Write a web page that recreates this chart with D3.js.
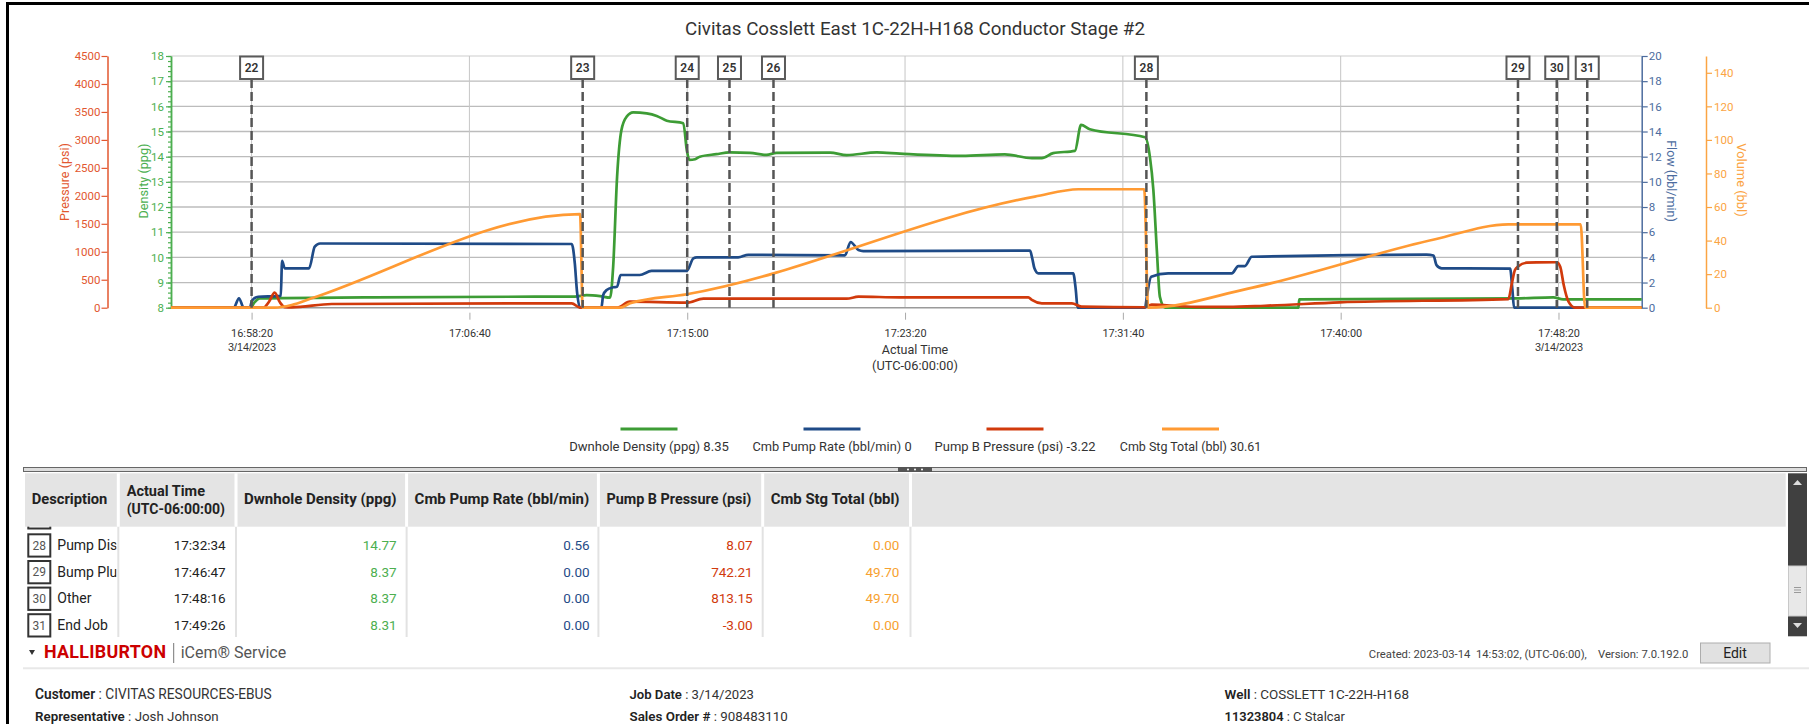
<!DOCTYPE html>
<html><head><meta charset="utf-8">
<script src="https://cdn.jsdelivr.net/npm/d3@7"></script>
<style>
body{margin:0;background:#fff;overflow:hidden}
svg{display:block;font-family:Roboto,"Open Sans",sans-serif}
</style></head><body>
<svg id="c" width="1809" height="724"></svg>
<script>
// ---------------- DATA ----------------
const chartTitle = "Civitas Cosslett East 1C-22H-H168 Conductor Stage #2";
const timeDomain = ["16:55:15", "17:51:31"];
const xTickLabels = ["16:58:20","17:06:40","17:15:00","17:23:20","17:31:40","17:40:00","17:48:20"];
const dateTickLabels = ["3/14/2023","","","","","","3/14/2023"];
const pressureTicks = [0,500,1000,1500,2000,2500,3000,3500,4000,4500];
const densityTicks = [8,9,10,11,12,13,14,15,16,17,18];
const flowTicks = [0,2,4,6,8,10,12,14,16,18,20];
const volumeTicks = [0,20,40,60,80,100,120,140];

const densityData = [
 ["16:55:15",8.0],["16:58:18",8.0],["16:58:26",8.2],["16:58:39",8.37],["17:02:40",8.41],["17:09:10",8.44],
 ["17:10:42",8.44],["17:11:09",8.5],["17:11:40",8.46],["17:12:03",8.4],["17:12:10",9.63],["17:12:19",13.2],
 ["17:12:29",15.06],["17:12:41",15.59],["17:12:56",15.76],["17:13:27",15.72],["17:13:50",15.62],["17:14:13",15.43],
 ["17:14:51",15.33],["17:14:59",14.27],["17:15:05",13.87],["17:15:18",13.9],["17:15:29",14.0],["17:16:07",14.1],
 ["17:16:38",14.17],["17:17:24",14.15],["17:18:02",14.07],["17:18:25",14.15],["17:20:28",14.16],["17:21:06",14.06],
 ["17:22:15",14.17],["17:23:08",14.12],["17:25:30",14.03],["17:27:09",14.09],["17:28:11",13.94],["17:28:34",13.94],
 ["17:29:00",14.14],["17:29:50",14.23],["17:30:04",15.26],["17:30:24",15.09],["17:32:31",14.77],["17:32:42",14.0],
 ["17:32:50",12.68],["17:32:58",10.29],["17:33:05",8.43],["17:33:17",8.0],["17:38:23",8.0],["17:38:25",8.33],
 ["17:46:44",8.37],["17:48:08",8.41],["17:48:31",8.33],["17:51:31",8.33]
];
const flowData = [
 ["16:55:15",0],["16:57:39",0],["16:57:51",0.75],["16:58:02",0],["16:58:16",0],["16:58:21",0.56],["16:58:35",0.87],
 ["16:59:21",0.92],["16:59:27",0.95],["16:59:30",3.73],["16:59:36",3.13],["17:00:32",3.13],["17:00:45",4.85],
 ["17:00:57",5.1],["17:10:35",5.06],["17:10:42",3.5],["17:10:47",1.27],["17:10:54",0],["17:11:43",0],["17:11:47",1.0],
 ["17:11:55",1.4],["17:12:10",1.62],["17:12:19",1.67],["17:12:27",2.6],["17:13:11",2.6],["17:13:38",2.92],
 ["17:14:59",2.92],["17:15:14",3.92],["17:15:22",4.0],["17:16:57",4.0],["17:17:20",4.2],["17:21:02",4.16],
 ["17:21:15",5.22],["17:21:33",4.58],["17:21:44",4.5],["17:28:07",4.53],["17:28:12",3.92],["17:28:17",3.13],
 ["17:28:26",2.73],["17:29:46",2.73],["17:29:52",1.4],["17:29:56",0],["17:32:31",0],["17:32:35",0.87],
 ["17:32:45",2.46],["17:33:24",2.73],["17:35:50",2.73],["17:36:05",3.31],["17:36:20",3.31],["17:36:36",4.05],
 ["17:43:17",4.21],["17:43:33",4.15],["17:43:40",3.39],["17:43:52",3.13],["17:46:29",3.1],["17:46:34",1.5],
 ["17:46:38",0],["17:51:31",0]
];
const pressureData = [
 ["16:55:15",0],["16:58:47",0],["16:59:00",107],["16:59:13",268],["16:59:25",96],["16:59:36",10],["16:59:52",5],
 ["17:01:24",66],["17:09:10",78],["17:10:35",78],["17:10:54",0],["17:12:20",0],["17:12:48",107],["17:14:59",90],
 ["17:15:37",161],["17:21:06",161],["17:21:33",197],["17:23:08",185],["17:28:03",186],["17:28:11",138],
 ["17:28:34",78],["17:29:43",78],["17:30:05",20],["17:32:31",8],["17:32:46",55],["17:34:26",15],["17:35:42",15],
 ["17:37:06",35],["17:39:58",96],["17:46:25",155],["17:46:33",436],["17:46:40",674],["17:46:48",742],
 ["17:47:07",805],["17:47:30",812],["17:48:16",813],["17:48:24",733],["17:48:32",406],["17:48:43",107],
 ["17:48:58",0],["17:51:31",0]
];
const volumeData = [
 ["16:55:15",0],["16:59:13",0],["16:59:52",1.6],["17:00:38",5.6],["17:10:54",55.8],["17:11:00",0],["17:12:26",0],
 ["17:12:49",2.6],["17:14:59",8.0],["17:28:18",66.2],["17:29:58",70.6],["17:32:29",70.6],["17:32:38",0],
 ["17:36:25",11.2],["17:43:37",40.8],["17:46:25",49.7],["17:49:11",49.7],["17:49:21",0],["17:51:31",0]
];

const eventIds = [22,23,24,25,26,28,29,30,31];
const eventTimes = ["16:58:20","17:11:00","17:15:00","17:16:37","17:18:18","17:32:34","17:46:47","17:48:16","17:49:26"];

const legendNames = ["Dwnhole Density (ppg)","Cmb Pump Rate (bbl/min)","Pump B Pressure (psi)","Cmb Stg Total (bbl)"];
const legendValues = ["8.35","0","-3.22","30.61"];

const tableHeaders = ["Description","Actual Time|(UTC-06:00:00)","Dwnhole Density (ppg)","Cmb Pump Rate (bbl/min)","Pump B Pressure (psi)","Cmb Stg Total (bbl)"];
const rowIds = [28,29,30,31];
const rowDesc = ["Pump Dis","Bump Plu","Other","End Job"];
const rowTime = ["17:32:34","17:46:47","17:48:16","17:49:26"];
const rowDensity = ["14.77","8.37","8.37","8.31"];
const rowRate = ["0.56","0.00","0.00","0.00"];
const rowPressure = ["8.07","742.21","813.15","-3.00"];
const rowTotal = ["0.00","49.70","49.70","0.00"];

const infoLeft = [["Customer","CIVITAS RESOURCES-EBUS"],["Representative","Josh Johnson"]];
const infoMid = [["Job Date","3/14/2023"],["Sales Order #","908483110"]];
const infoRight = [["Well","COSSLETT 1C-22H-H168"],["11323804","C Stalcar"]];

// ---------------- STYLE ----------------
const C = {
  dens:"#3d9c35", flow:"#1f4b87", pres:"#d13a0c", vol:"#ff9a33",
  densAx:"#4caf50", flowAx:"#4c6c9e", presAx:"#e2572f", volAx:"#fba443"
};
const svg = d3.select("#c");
const parse = d3.timeParse("%H:%M:%S");
const X0=171, X1=1641.7, YT=56, YB=307.7;
const x = d3.scaleTime().domain(timeDomain.map(parse)).range([X0,X1]);
const yD = d3.scaleLinear([8,18],[YB,YT]);
const yF = d3.scaleLinear([0,20],[YB,YT]);
const yP = d3.scaleLinear([0,4500],[YB,YT]);
const yV = d3.scaleLinear([0,150],[YB,YT]);

function fit(sel, w){
  sel.each(function(){
    const fs = parseFloat(this.getAttribute("font-size"));
    const L = this.getComputedTextLength();
    if (L>0) this.setAttribute("font-size",(fs*w/L).toFixed(2));
  });
  return sel;
}

// page borders
svg.append("rect").attr("x",6).attr("y",2).attr("width",1803).attr("height",3).attr("fill","#000");
svg.append("rect").attr("x",6).attr("y",2).attr("width",3).attr("height",722).attr("fill","#000");

// title
fit(svg.append("text").attr("x",915).attr("y",35).attr("text-anchor","middle").attr("font-size",18)
  .attr("fill","#333").text(chartTitle), 460);

// grid
const grid = svg.append("g");
grid.selectAll("line.h").data(densityTicks.filter(d=>d>8 && d<18)).join("line")
  .attr("x1",X0).attr("x2",X1).attr("y1",d=>yD(d)).attr("y2",d=>yD(d))
  .attr("stroke","#bcbcbc").attr("stroke-width",1.3);
grid.append("line").attr("x1",X0).attr("x2",X1).attr("y1",YT).attr("y2",YT)
  .attr("stroke","#e6e6e6").attr("stroke-width",2);
grid.selectAll("line.v").data(xTickLabels).join("line")
  .attr("x1",d=>x(parse(d))).attr("x2",d=>x(parse(d))).attr("y1",YT).attr("y2",YB)
  .attr("stroke","#c6c6c6").attr("stroke-width",1);
grid.append("line").attr("x1",X0).attr("x2",X1).attr("y1",YB).attr("y2",YB)
  .attr("stroke","#9a9a9a").attr("stroke-width",1.5);

// x axis
const xa = svg.append("g").attr("transform",`translate(0,${YB+5})`)
  .call(d3.axisBottom(x).tickValues(xTickLabels.map(parse)).tickSize(7).tickSizeOuter(0).tickPadding(10)
    .tickFormat(d3.timeFormat("%H:%M:%S")));
xa.select(".domain").remove();
xa.selectAll(".tick line").attr("stroke","#aaa");
xa.selectAll(".tick text").attr("font-size",11.5).attr("fill","#333").attr("font-family","Roboto");
fit(xa.selectAll(".tick text"), 42);
xa.selectAll(".tick").each(function(d,i){
  if (dateTickLabels[i]) fit(d3.select(this).append("text").attr("y",38).attr("text-anchor","middle")
    .attr("font-size",11.5).attr("fill","#333").text(dateTickLabels[i]), 48);
});
fit(svg.append("text").attr("x",915).attr("y",354).attr("text-anchor","middle").attr("font-size",12.5)
  .attr("fill","#333").text("Actual Time"), 66.5);
fit(svg.append("text").attr("x",915).attr("y",370).attr("text-anchor","middle").attr("font-size",12.5)
  .attr("fill","#333").text("(UTC-06:00:00)"), 86);

function styleAxis(g, col){
  g.select(".domain").attr("stroke",col).attr("stroke-width",1.5);
  g.selectAll(".tick line").attr("stroke",col).attr("stroke-width",1.2);
  g.selectAll(".tick text").attr("fill",col).attr("font-size",11.5).attr("font-family","Roboto");
}
// pressure axis
const pa = svg.append("g").attr("transform","translate(107.5,0)")
  .call(d3.axisLeft(yP).tickValues(pressureTicks).tickSize(6).tickSizeOuter(0).tickPadding(1)
    .tickFormat(d3.format("d")));
styleAxis(pa, C.presAx);
// density axis (minor + major)
const dm = svg.append("g").attr("transform",`translate(${X0},0)`)
  .call(d3.axisLeft(yD).tickValues(d3.range(8,18.001,0.2)).tickSize(3).tickSizeOuter(0).tickFormat(""));
styleAxis(dm, C.densAx);
const da = svg.append("g").attr("transform",`translate(${X0},0)`)
  .call(d3.axisLeft(yD).tickValues(densityTicks).tickSize(5).tickSizeOuter(0).tickPadding(2));
styleAxis(da, C.densAx);
// flow axis
const fa = svg.append("g").attr("transform",`translate(${X1},0)`)
  .call(d3.axisRight(yF).tickValues(flowTicks).tickSize(6).tickSizeOuter(0).tickPadding(1));
styleAxis(fa, C.flowAx);
// volume axis
const va = svg.append("g").attr("transform","translate(1706,0)")
  .call(d3.axisRight(yV).tickValues(volumeTicks).tickSize(6).tickSizeOuter(0).tickPadding(2));
styleAxis(va, C.volAx);

function axTitle(tx, ty, rot, txt, col, w){
  fit(svg.append("text").attr("transform",`translate(${tx},${ty}) rotate(${rot})`)
    .attr("text-anchor","middle").attr("dominant-baseline","central").attr("font-size",13)
    .attr("fill",col).text(txt), w);
}
axTitle(64,182,-90,"Pressure (psi)",C.presAx,78);
axTitle(143,181,-90,"Density (ppg)",C.densAx,75);
axTitle(1671,181,90,"Flow (bbl/min)",C.flowAx,81.7);
axTitle(1741.5,180,90,"Volume (bbl)",C.volAx,73.3);

// series
function series(data, y, col){
  const line = d3.line().x(d=>x(parse(d[0]))).y(d=>y(d[1])).curve(d3.curveMonotoneX);
  svg.append("path").datum(data).attr("d",line).attr("fill","none").attr("stroke",col)
    .attr("stroke-width",2.7).attr("stroke-linejoin","round");
}
series(densityData, yD, C.dens);
series(flowData, yF, C.flow);
series(pressureData, yP, C.pres);
series(volumeData, yV, C.vol);

// events
const ev = svg.append("g").selectAll("g").data(eventIds).join("g")
  .attr("transform",(d,i)=>`translate(${x(parse(eventTimes[i]))},0)`);
ev.append("line").attr("y1",79).attr("y2",YB).attr("stroke","#555").attr("stroke-width",2.5)
  .attr("stroke-dasharray","9,4");
ev.append("rect").attr("x",-11.5).attr("y",56.5).attr("width",23).attr("height",22.5)
  .attr("fill","#fff").attr("stroke","#5a5a5a").attr("stroke-width",2);
ev.append("text").attr("y",72).attr("text-anchor","middle").attr("font-size",12).attr("font-weight",600)
  .attr("fill","#333").text(d=>d);

// legend
const legX = [649,832,1015,1190.5];
const legW = [159.7,159.3,161,141.6];
const lg = svg.append("g").selectAll("g").data(legendNames).join("g");
lg.append("rect").attr("x",(d,i)=>legX[i]-28.5).attr("y",427.5).attr("width",57).attr("height",3)
  .attr("fill",(d,i)=>[C.dens,C.flow,C.pres,C.vol][i]);
lg.append("text").attr("x",(d,i)=>legX[i]).attr("y",451).attr("text-anchor","middle").attr("font-size",12)
  .attr("fill","#333").text((d,i)=>d+" "+legendValues[i]).each(function(d,i){ fit(d3.select(this), legW[i]); });

// divider
svg.append("rect").attr("x",23.5).attr("y",467.5).attr("width",1783).attr("height",4)
  .attr("fill","#dcdcdc").attr("stroke","#666").attr("stroke-width",1);
svg.append("rect").attr("x",898).attr("y",467).attr("width",34).attr("height",5).attr("fill","#555");
svg.selectAll("circle.hd").data([908,915,922]).join("circle").attr("cx",d=>d).attr("cy",469.5).attr("r",1)
  .attr("fill","#fff");

// table
const colSep = [118.3,236,406.6,598.4,762.7,910.5];
const colLeft = [25,118.3,236,406.6,598.4,762.7];
const colRightText = [null,225.7,396.7,589.6,752.7,899.4];
const headerTarget = [75.7,[78.3,98.3],152.7,174.8,145,129];
// partial row under header
svg.append("rect").attr("x",28.3).attr("y",507.5).attr("width",22).attr("height",21).attr("fill","#fff")
  .attr("stroke","#333").attr("stroke-width",2);
svg.append("rect").attr("x",25).attr("y",473.3).attr("width",1760.7).attr("height",53.4).attr("fill","#e4e4e4");
svg.selectAll("rect.gap").data(colSep).join("rect").attr("x",d=>d-1.5).attr("y",473.3).attr("width",3)
  .attr("height",53.4).attr("fill","#fff");
svg.selectAll("line.cs").data(colSep).join("line").attr("x1",d=>d).attr("x2",d=>d).attr("y1",527)
  .attr("y2",637).attr("stroke","#e2e2e2").attr("stroke-width",2);
tableHeaders.forEach((h,i)=>{
  const parts = h.split("|");
  if (parts.length===1){
    fit(svg.append("text").attr("x",colLeft[i]+ (i===0?6.7:8)).attr("y",504).attr("font-size",13)
      .attr("font-weight",700).attr("fill","#222").text(parts[0]), headerTarget[i]);
  } else {
    parts.forEach((p,k)=>fit(svg.append("text").attr("x",126.7).attr("y",495.5+k*18.6).attr("font-size",13)
      .attr("font-weight",700).attr("fill","#222").text(p), headerTarget[i][k]));
  }
});
svg.append("defs").append("clipPath").attr("id","descClip").append("rect").attr("x",25).attr("y",527)
  .attr("width",91.5).attr("height",110);
const rowY = [545.3,572,598.6,625.2];
const rowCols = [rowTime,rowDensity,rowRate,rowPressure,rowTotal];
const rowColColors = ["#222",C.densAx,C.flow,C.pres,"#f7a12f"];
rowIds.forEach((id,r)=>{
  const cy = rowY[r];
  svg.append("rect").attr("x",28.3).attr("y",cy-11).attr("width",22).attr("height",22.3).attr("fill","#fff")
    .attr("stroke","#333").attr("stroke-width",2);
  svg.append("text").attr("x",39.3).attr("y",cy+4.3).attr("text-anchor","middle").attr("font-size",12)
    .attr("fill","#555").text(id);
  svg.append("text").attr("x",57.3).attr("y",cy+4.8).attr("font-size",14).attr("fill","#222")
    .attr("clip-path","url(#descClip)").text(rowDesc[r]);
  rowCols.forEach((col,c)=>{
    svg.append("text").attr("x",colRightText[c+1]).attr("y",cy+4.8).attr("text-anchor","end")
      .attr("font-size",13.5).attr("fill",rowColColors[c]).text(col[r]);
  });
});
// scrollbar
svg.append("rect").attr("x",1788).attr("y",473.3).attr("width",19).attr("height",163).attr("fill","#404040");
svg.append("rect").attr("x",1788.5).attr("y",566).attr("width",18).attr("height",50).attr("fill","#e8e8e8")
  .attr("stroke","#c8c8c8");
svg.selectAll("line.grip").data([587.5,590,592.5]).join("line").attr("x1",1794).attr("x2",1801)
  .attr("y1",d=>d).attr("y2",d=>d).attr("stroke","#999");
svg.append("path").attr("d","M1793,485 L1797.5,480 L1802,485 Z").attr("fill","#ddd");
svg.append("path").attr("d","M1793,623 L1797.5,628 L1802,623 Z").attr("fill","#ddd");

// footer logo
svg.append("path").attr("d","M29,650 L35,650 L32,655 Z").attr("fill","#333");
fit(svg.append("text").attr("x",44).attr("y",658).attr("font-size",15).attr("font-weight",700)
  .attr("fill","#cc0000").attr("letter-spacing",0.3).text("HALLIBURTON"), 123);
svg.append("line").attr("x1",173.7).attr("x2",173.7).attr("y1",643).attr("y2",663).attr("stroke","#777");
fit(svg.append("text").attr("x",180.7).attr("y",658).attr("font-size",16).attr("fill","#555")
  .text("iCem® Service"), 105.6);
fit(svg.append("text").attr("x",1688.3).attr("y",657.5).attr("text-anchor","end").attr("font-size",12)
  .attr("fill","#444").attr("xml:space","preserve")
  .text("Created: 2023-03-14  14:53:02, (UTC-06:00),    Version: 7.0.192.0"), 320);
svg.append("rect").attr("x",1700.5).attr("y",643).attr("width",69.5).attr("height",20).attr("fill","#e1e1e1")
  .attr("stroke","#adadad");
svg.append("text").attr("x",1735).attr("y",658).attr("text-anchor","middle").attr("font-size",14)
  .attr("fill","#222").text("Edit");
svg.append("line").attr("x1",23).attr("x2",1809).attr("y1",668.3).attr("y2",668.3).attr("stroke","#e8e8e8")
  .attr("stroke-width",2);

function info(xp, rows, widths){
  rows.forEach((r,i)=>{
    const t = svg.append("text").attr("x",xp).attr("y",699+i*21.7).attr("font-size",12.5).attr("fill","#333");
    t.append("tspan").attr("font-weight",600).attr("fill","#222").text(r[0]);
    t.append("tspan").text(" :  "+r[1]);
    fit(t, widths[i]);
  });
}
info(35, infoLeft, [236.6,183.8]);
info(629.5, infoMid, [124.5,158.5]);
info(1224.6, infoRight, [184.4,120.4]);
</script>
</body></html>
